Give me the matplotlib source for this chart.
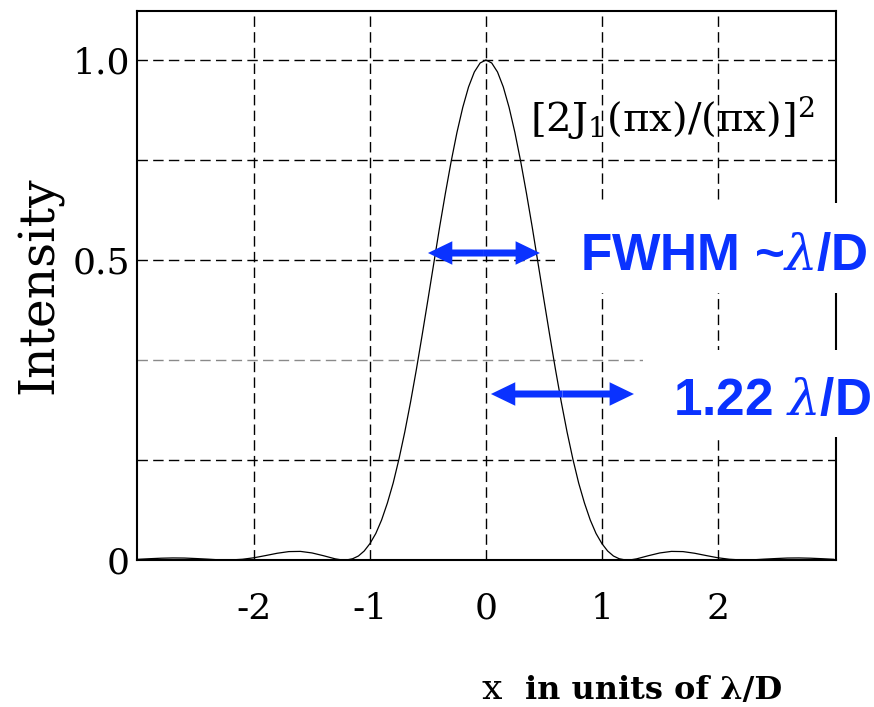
import matplotlib

matplotlib.use("Agg")
import matplotlib.pyplot as plt
from matplotlib.patches import Rectangle

# Airy pattern (x in units of lambda/D, relative intensity)
x_vals = [
    -3.0, -2.9, -2.8, -2.7, -2.6, -2.5, -2.4, -2.3, -2.2, -2.1, -2.0, -1.9, -1.8, -1.7, -1.6, -1.5, -1.4,
    -1.3, -1.25, -1.2, -1.15, -1.1, -1.05, -1.0, -0.95, -0.9, -0.85, -0.8, -0.75, -0.7, -0.65, -0.6,
    -0.55, -0.5, -0.45, -0.4, -0.35, -0.3, -0.25, -0.2, -0.15, -0.1, -0.05, 0.0,
    0.05, 0.1, 0.15, 0.2, 0.25, 0.3, 0.35, 0.4, 0.45, 0.5, 0.55, 0.6, 0.65, 0.7, 0.75, 0.8,
    0.85, 0.9, 0.95, 1.0, 1.05, 1.1, 1.15, 1.2, 1.25, 1.3,
    1.4, 1.5, 1.6, 1.7, 1.8, 1.9, 2.0, 2.1, 2.2, 2.3, 2.4, 2.5, 2.6, 2.7, 2.8, 2.9, 3.0,
]
intensity = [
    0.0014, 0.0026, 0.0036, 0.0041, 0.0039, 0.0029, 0.0017, 0.0003, 0.0001, 0.0015, 0.0045, 0.0089,
    0.0135, 0.0168, 0.0172, 0.0141, 0.0085,
    0.0023, 0.0004, 0.0002, 0.0025, 0.008, 0.018, 0.033, 0.053, 0.080, 0.114, 0.154, 0.202, 0.256,
    0.316, 0.381, 0.450, 0.521, 0.593, 0.665, 0.733, 0.797, 0.855, 0.905, 0.946, 0.976, 0.994, 1.000,
    0.994, 0.976, 0.946, 0.905, 0.855, 0.797, 0.733, 0.665, 0.593, 0.521, 0.450, 0.381, 0.316, 0.256,
    0.202, 0.154, 0.114, 0.080, 0.053, 0.033, 0.018, 0.008, 0.0025, 0.0002, 0.0004, 0.0023,
    0.0085, 0.0141, 0.0172, 0.0168, 0.0135, 0.0089, 0.0045, 0.0015, 0.0001, 0.0003, 0.0017, 0.0029,
    0.0039, 0.0041, 0.0036, 0.0026, 0.0014,
]

xtick_values = [-2, -1, 0, 1, 2]
xtick_labels = ["-2", "-1", "0", "1", "2"]
# the original labels its 0.6 grid line "0.5"
ytick_values = [0, 0.6, 1.0]
ytick_labels = ["0", "0.5", "1.0"]
grid_x = [-2, -1, 0, 1, 2]
grid_y = [0.2, 0.4, 0.6, 0.8, 1.0]

BLUE = "#0a32ff"

plt.rcParams["font.family"] = ["DejaVu Serif"]
plt.rcParams["mathtext.fontset"] = "dejavuserif"

fig = plt.figure(figsize=(8.74, 7.07), dpi=100)
ax = fig.add_axes([137 / 874, 1 - 560 / 707, 699 / 874, 549 / 707])

for gx in grid_x:
    ax.axvline(gx, color="black", lw=1.0, dashes=(7.5, 3.8), zorder=1)
for gy in grid_y:
    col = "#8a8a8a" if abs(gy - 0.4) < 1e-9 else "black"
    ax.axhline(gy, color=col, lw=1.0, dashes=(7.5, 3.8), zorder=1)

ax.plot(x_vals, intensity, color="black", lw=0.9, zorder=2)

ax.set_xlim(-3.01, 3.02)
ax.set_ylim(0, 1.098)
ax.set_xticks(xtick_values)
ax.set_xticklabels(xtick_labels)
ax.set_yticks(ytick_values)
ax.set_yticklabels(ytick_labels)
ax.tick_params(axis="x", length=0, pad=23, labelsize=26)
ax.tick_params(axis="y", length=0, pad=5, labelsize=26)
for sp in ax.spines.values():
    sp.set_linewidth(1.5)

ax.set_ylabel("Intensity", fontsize=35)
ax.yaxis.set_label_coords(-0.105, 0.5)

ax.text(0.379, 0.858, "[2J$_1$(πx)/(πx)]$^2$", fontsize=29, va="baseline", ha="left")

# double-headed arrows drawn as two halves from the middle
for xc, half, yy in [(-0.017, 0.483, 0.614), (0.66, 0.617, 0.332)]:
    for sgn in (1, -1):
        ax.arrow(xc, yy, sgn * half, 0, width=0.014, head_width=0.047, head_length=0.21,
                 length_includes_head=True, color=BLUE, lw=0, zorder=4)

# white boxes behind the blue labels (they hide the grid and right spine)
fig.patches.append(Rectangle((555 / 874, 1 - 293 / 707), 319 / 874, 90 / 707,
                             transform=fig.transFigure, facecolor="white", edgecolor="none", zorder=5))
fig.patches.append(Rectangle((643 / 874, 1 - 437 / 707), 231 / 874, 87 / 707,
                             transform=fig.transFigure, facecolor="white", edgecolor="none", zorder=5))

fig.text(580 / 874, 1 - 270 / 707, r"FWHM ~$\lambda$/D", color=BLUE, fontsize=37, fontweight="bold",
         family=["Liberation Sans", "DejaVu Sans"], ha="left", va="baseline", zorder=6)
fig.text(673 / 874, 1 - 415 / 707, r"1.22 $\lambda$/D", color=BLUE, fontsize=37, fontweight="bold",
         family=["Liberation Sans", "DejaVu Sans"], ha="left", va="baseline", zorder=6)

fig.text(482 / 874, 1 - 699 / 707, "x", fontsize=26, ha="left", va="baseline")
fig.text(525 / 874, 1 - 699 / 707, "in units of λ/D", fontsize=23, fontweight="bold",
         ha="left", va="baseline")

fig.savefig("out.png", dpi=100)
